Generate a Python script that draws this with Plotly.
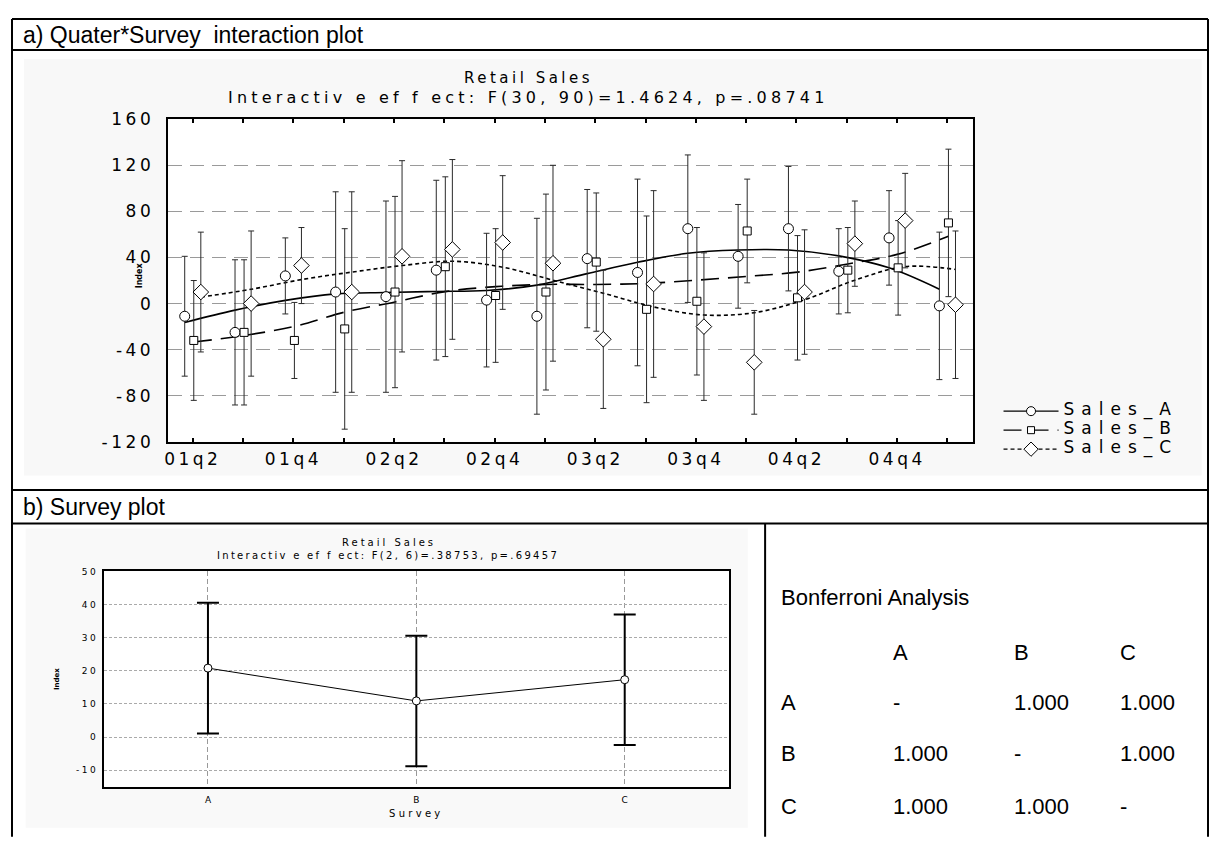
import plotly.graph_objects as go

# page is 1217x847; the browser body keeps an 8px margin, so the figure is 1201x831
PAGE_W, PAGE_H = 1217, 847
OFF = 8
FW, FH = PAGE_W - 2 * OFF, PAGE_H - 2 * OFF

# ---------------- data: top chart (quarter x survey) ----------------
quarters = ["01q2", "01q3", "01q4", "02q1", "02q2", "02q3", "02q4", "03q1",
            "03q2", "03q3", "03q4", "04q1", "04q2", "04q3", "04q4", "05q1"]
tick_labels = ["01q2", "", "01q4", "", "02q2", "", "02q4", "",
               "03q2", "", "03q4", "", "04q2", "", "04q4", ""]
sales_a = [-11, -25, 24, 10, 6, 29, 3, -11, 39, 27, 65, 41, 65, 28, 57, -2]
sales_b = [-32, -25, -32, -22, 10, 32, 7, 10, 36, -5, 2, 63, 5, 29, 31, 70]
sales_c = [10, 0, 33, 10, 41, 47, 53, 35, -31, 17, -20, -51, 10, 52, 72, -1]
ci_half = [52, 63, 33, 87, 83, 78, 58, 85, 60, 81, 64, 45, 54, 37, 41, 64]
fit_a = [-16.4, -5.7, 2.8, 8.4, 9.6, 10.5, 11.3, 16, 26, 35.8, 43.7, 46.5, 46.5, 41.4, 31, 12.4]
fit_b = [-33.4, -27.7, -19.8, -7.4, 1.4, 10.4, 14.7, 16.6, 16.6, 17.5, 20.3, 23.6, 27.3, 34.4, 42.9, 58.4]
fit_c = [5.6, 12.4, 20.8, 27.3, 33, 36.7, 31.6, 20.3, 9, -2.9, -9.9, -7.9, 3.3, 20.3, 32.1, 29.6]
series_names = ["Sales_A", "Sales_B", "Sales_C"]
y_ticks_top = [-120, -80, -40, 0, 40, 80, 120, 160]

# ---------------- data: bottom chart (survey) ----------------
survey_labels = ["A", "B", "C"]
survey_means = [20.8, 10.9, 17.3]
survey_ci = [19.7, 19.7, 19.7]
y_ticks_bottom = [-10, 0, 10, 20, 30, 40, 50]

# ---------------- data: Bonferroni table ----------------
bonf_labels = ["A", "B", "C"]
bonf_matrix = [["-", "1.000", "1.000"],
               ["1.000", "-", "1.000"],
               ["1.000", "1.000", "-"]]

# ---------------- helpers (page pixel -> paper fraction) ----------------
def px(x):
    return (x - OFF) / FW

def py(y):
    return 1 - (y - OFF) / FH

def sty(text, spacing, size=None):
    s = f"letter-spacing:{spacing}px"
    if size:
        s += f";font-size:{size}px"
    return f'<span style="{s}">{text}</span>'

STAT = "DejaVu Sans, Liberation Sans, Arial, sans-serif"
DOC = "Liberation Sans, Arial, Helvetica, sans-serif"

fig = go.Figure()

# ---------------- top chart traces ----------------
offsets = [-0.16, 0.02, 0.16]
symbols = ["circle", "square", "diamond"]
msizes = [10, 8, 12]
dashes = ["solid", "18px,9px", "4px,3px"]
vals = [sales_a, sales_b, sales_c]
fits = [fit_a, fit_b, fit_c]

for k in range(3):
    xs = [i + offsets[k] for i in range(len(quarters))]
    fig.add_trace(go.Scatter(
        x=xs, y=fits[k], mode="lines",
        line=dict(color="black", width=1.6, dash=dashes[k], shape="spline"),
        showlegend=False, hoverinfo="skip", xaxis="x", yaxis="y"))
for k in range(3):
    xs = [i + offsets[k] for i in range(len(quarters))]
    fig.add_trace(go.Scatter(
        x=xs, y=vals[k], mode="markers",
        marker=dict(symbol=symbols[k], size=msizes[k], color="white",
                    line=dict(color="black", width=1)),
        error_y=dict(type="data", array=ci_half, symmetric=True, thickness=1, width=3, color="#2a2a2a"),
        showlegend=False, name=series_names[k], xaxis="x", yaxis="y"))
# legend entries
for k in range(3):
    fig.add_trace(go.Scatter(
        x=[None], y=[None], mode="lines+markers", name=sty(series_names[k], 7, 17),
        line=dict(color="black", width=1.4, dash=dashes[k]),
        marker=dict(symbol=symbols[k], size=msizes[k] - 1, color="white",
                    line=dict(color="black", width=1)),
        xaxis="x", yaxis="y"))

# ---------------- bottom chart trace ----------------
fig.add_trace(go.Scatter(
    x=list(range(len(survey_labels))), y=survey_means, mode="lines+markers",
    line=dict(color="black", width=1),
    marker=dict(symbol="circle", size=8, color="white", line=dict(color="black", width=1)),
    error_y=dict(type="data", array=survey_ci, symmetric=True, thickness=2, width=11, color="black"),
    showlegend=False, xaxis="x2", yaxis="y2"))

# ---------------- axes ----------------
fig.update_layout(
    xaxis=dict(domain=[px(165), px(972)], range=[-0.5, 15.5], anchor="y",
               tickvals=list(range(len(quarters))), ticktext=[sty(t, 3.5) for t in tick_labels],
               ticks="inside", ticklen=4, tickwidth=2, tickcolor="black",
               showline=True, linewidth=2, linecolor="black", mirror="ticks",
               showgrid=False, zeroline=False, ticklabelstandoff=1,
               tickfont=dict(family=STAT, size=17, color="black")),
    yaxis=dict(domain=[py(442.3), py(111.7)], range=[-120, 160], anchor="x",
               tickvals=y_ticks_top, ticktext=[sty(str(v), 3.5) for v in y_ticks_top],
               ticks="", showline=True, linewidth=2, linecolor="black", mirror=True,
               showgrid=True, gridcolor="#9a9a9a", gridwidth=1, griddash="14px,8px",
               zeroline=False, ticklabelstandoff=8,
               tickfont=dict(family=STAT, size=17, color="black")),
    xaxis2=dict(domain=[px(101), px(727.7)], range=[-0.5, 2.5], anchor="y2",
                tickvals=list(range(len(survey_labels))), ticktext=survey_labels,
                ticks="", showline=True, linewidth=1.5, linecolor="black", mirror=True,
                showgrid=True, gridcolor="#999999", gridwidth=1, griddash="5px,3px",
                zeroline=False, ticklabelstandoff=4,
                tickfont=dict(family=STAT, size=9, color="black")),
    yaxis2=dict(domain=[py(795.7), py(575)], range=[-15, 50], anchor="x2",
                tickvals=y_ticks_bottom, ticktext=[sty(str(v), 2.5) for v in y_ticks_bottom],
                ticks="", showline=True, linewidth=1.5, linecolor="black", mirror=True,
                showgrid=True, gridcolor="#aaaaaa", gridwidth=1, griddash="3px,2px",
                zeroline=False, ticklabelstandoff=2,
                tickfont=dict(family=STAT, size=9, color="black")),
)

# ---------------- shapes ----------------
shapes = []
shapes.append(dict(type="rect", xref="paper", yref="paper", x0=px(21), x1=px(1201.7), y0=py(476.7), y1=py(50),
                   fillcolor="#f8f8f8", line=dict(width=0), layer="below"))
shapes.append(dict(type="rect", xref="x domain", yref="y domain", x0=0, x1=1, y0=0, y1=1,
                   fillcolor="white", line=dict(width=0), layer="below"))
shapes.append(dict(type="rect", xref="paper", yref="paper", x0=px(22.7), x1=px(746.7), y0=py(837.7), y1=py(531),
                   fillcolor="#f9f9f9", line=dict(width=0), layer="below"))
shapes.append(dict(type="rect", xref="x2 domain", yref="y2 domain", x0=0, x1=1, y0=0, y1=1,
                   fillcolor="white", line=dict(width=0), layer="below"))
bl = dict(color="black", width=2)
LEFT, TOP, RIGHT, BOTTOM = 9, 9, 1208, 847
for (x0, y0, x1, y1) in [(LEFT, TOP, RIGHT, TOP), (LEFT, TOP, LEFT, BOTTOM), (RIGHT, TOP, RIGHT, BOTTOM),
                         (LEFT, 40.7, RIGHT, 40.7), (LEFT, 491.7, RIGHT, 491.7), (LEFT, 526, RIGHT, 526),
                         (764, 526, 764, BOTTOM)]:
    shapes.append(dict(type="line", xref="paper", yref="paper", x0=px(x0), x1=px(x1), y0=py(y0), y1=py(y1),
                       line=bl, layer="above"))
fig.update_layout(shapes=shapes)

# ---------------- annotations ----------------
ann = []
def add_text(x, y, text, size, family=DOC, xanchor="left", angle=0, weight=None):
    f = dict(family=family, size=size, color="black")
    if weight:
        f["weight"] = weight
    ann.append(dict(x=px(x), y=py(y), xref="paper", yref="paper", text=text, showarrow=False,
                    xanchor=xanchor, yanchor="middle", textangle=angle, font=f))

add_text(18, 25, "a) Quater*Survey  interaction plot", 23)
add_text(18, 509, "b) Survey plot", 23)

# top chart titles
add_text(527, 69, sty("Retail Sales", 3.5), 15, family=STAT, xanchor="center")
add_text(527, 89, sty("Interactiv e ef f ect: F(30, 90)=1.4624, p=.08741", 4.2), 16, family=STAT, xanchor="center")
add_text(137, 272, "Index", 8, family=STAT, xanchor="center", angle=-90, weight="bold")

# bottom chart titles
add_text(387, 545, sty("Retail Sales", 3), 10, family=STAT, xanchor="center")
add_text(386, 559, sty("Interactiv e ef f ect: F(2, 6)=.38753, p=.69457", 2.3), 10, family=STAT, xanchor="center")
add_text(415, 823, sty("Survey", 3.3), 10, family=STAT, xanchor="center")
add_text(53.5, 685, "Index", 7, family=STAT, xanchor="center", angle=-90, weight="bold")

# Bonferroni table
add_text(778, 602, "Bonferroni Analysis", 22)
col_x = [890, 1012, 1118]
row_y = [709, 762, 816]
for j, lab in enumerate(bonf_labels):
    add_text(col_x[j], 658, lab, 22)
for i, lab in enumerate(bonf_labels):
    add_text(778, row_y[i], lab, 22)
    for j in range(3):
        add_text(col_x[j], row_y[i], bonf_matrix[i][j], 22)

fig.update_layout(annotations=ann)

fig.update_layout(
    width=FW, height=FH, autosize=False,
    margin=dict(l=0, r=0, t=0, b=0),
    paper_bgcolor="white", plot_bgcolor="white",
    showlegend=True,
    legend=dict(x=px(998), y=py(396), xanchor="left", yanchor="top",
                bgcolor="rgba(0,0,0,0)", font=dict(family=STAT, size=10, color="black"),
                itemwidth=55, tracegroupgap=0, traceorder="normal"),
    font=dict(family=STAT, color="black"),
)

fig.write_html("out.html")
